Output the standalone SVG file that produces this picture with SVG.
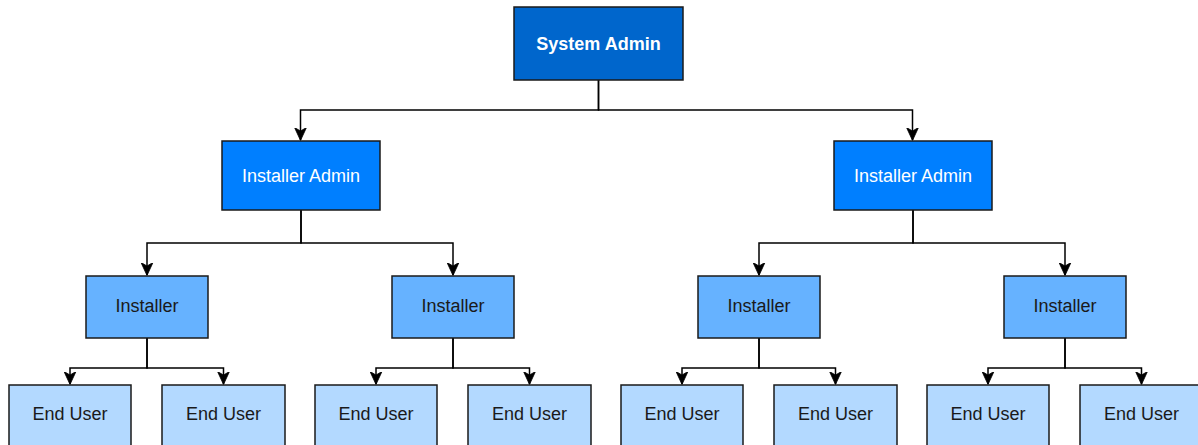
<svg xmlns="http://www.w3.org/2000/svg" width="1198" height="445" viewBox="0 0 1198 445">
<defs>
<style>
.n rect{stroke:#1a1a1a;stroke-width:1.5}
.n text{font-family:"Liberation Sans",Arial,sans-serif;font-size:18px;text-anchor:middle;dominant-baseline:central}
.sa rect{fill:#0066CC}
.sa text{fill:#fff;font-weight:bold}
.ia rect{fill:#007FFF}
.ia text{fill:#fff}
.in rect{fill:#66B2FF}
.in text{fill:#1a1a1a}
.eu rect{fill:#B3D9FF}
.eu text{fill:#1a1a1a}
.c path{fill:none;stroke:#000;stroke-width:1.5;marker-end:url(#ah)}
</style>
<marker id="ah" viewBox="0 0 13 13" refX="12.5" refY="6.5" markerWidth="13" markerHeight="13" markerUnits="userSpaceOnUse" orient="auto">
<path d="M0,0.5 L13,6.5 L0,12.5 L3.5,6.5 Z" fill="#000" stroke="#000" stroke-width="0.8"/>
</marker>
</defs>
<g class="c">
<path d="M598.5,80 V110 H300.5 V140"/>
<path d="M598.5,80 V110 H912.5 V140"/>
<path d="M301,210 V243 H147 V275"/>
<path d="M301,210 V243 H453 V275"/>
<path d="M913,210 V243 H759 V275"/>
<path d="M913,210 V243 H1065 V275"/>
<path d="M147,338 V368 H70 V384"/>
<path d="M147,338 V368 H223.5 V384"/>
<path d="M453,338 V368 H376 V384"/>
<path d="M453,338 V368 H529.5 V384"/>
<path d="M759,338 V368 H682 V384"/>
<path d="M759,338 V368 H835.5 V384"/>
<path d="M1065,338 V368 H988 V384"/>
<path d="M1065,338 V368 H1141.5 V384"/>
</g>
<g id="system-admin" class="n sa"><rect x="514" y="7" width="169" height="73"/><text x="598.5" y="43.5">System Admin</text></g>
<g id="installer-admin-1" class="n ia"><rect x="222" y="141" width="158" height="69"/><text x="301" y="175.5">Installer Admin</text></g>
<g id="installer-admin-2" class="n ia"><rect x="834" y="141" width="158" height="69"/><text x="913" y="175.5">Installer Admin</text></g>
<g id="installer-1" class="n in"><rect x="86" y="276" width="122" height="62"/><text x="147" y="306">Installer</text></g>
<g id="installer-2" class="n in"><rect x="392" y="276" width="122" height="62"/><text x="453" y="306">Installer</text></g>
<g id="installer-3" class="n in"><rect x="698" y="276" width="122" height="62"/><text x="759" y="306">Installer</text></g>
<g id="installer-4" class="n in"><rect x="1004" y="276" width="122" height="62"/><text x="1065" y="306">Installer</text></g>
<g id="end-user-1" class="n eu"><rect x="9" y="385" width="122" height="75"/><text x="70" y="414">End User</text></g>
<g id="end-user-2" class="n eu"><rect x="162" y="385" width="123" height="75"/><text x="223.5" y="414">End User</text></g>
<g id="end-user-3" class="n eu"><rect x="315" y="385" width="122" height="75"/><text x="376" y="414">End User</text></g>
<g id="end-user-4" class="n eu"><rect x="468" y="385" width="123" height="75"/><text x="529.5" y="414">End User</text></g>
<g id="end-user-5" class="n eu"><rect x="621" y="385" width="122" height="75"/><text x="682" y="414">End User</text></g>
<g id="end-user-6" class="n eu"><rect x="774" y="385" width="123" height="75"/><text x="835.5" y="414">End User</text></g>
<g id="end-user-7" class="n eu"><rect x="927" y="385" width="122" height="75"/><text x="988" y="414">End User</text></g>
<g id="end-user-8" class="n eu"><rect x="1080" y="385" width="123" height="75"/><text x="1141.5" y="414">End User</text></g>
</svg>
